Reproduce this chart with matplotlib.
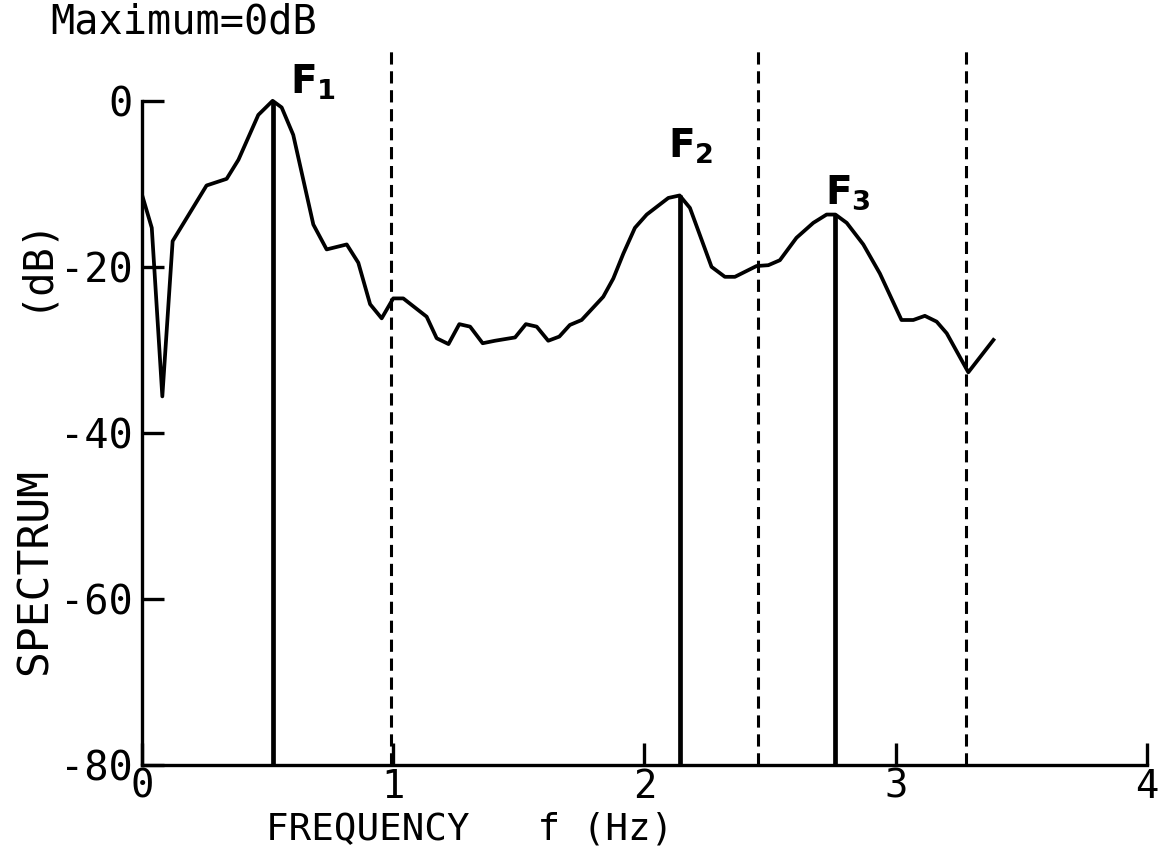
import numpy as np
import matplotlib.pyplot as plt

# spectrum trace
freq = [0.0, 0.039, 0.081, 0.122, 0.257, 0.337, 0.384, 0.463, 0.52, 0.556,
        0.602, 0.682, 0.735, 0.815, 0.861, 0.908, 0.954, 1.0, 1.04, 1.133,
        1.173, 1.22, 1.263, 1.306, 1.356, 1.405, 1.485, 1.528, 1.571, 1.617,
        1.661, 1.703, 1.75, 1.836, 1.876, 1.916, 1.962, 2.009, 2.095, 2.14,
        2.181, 2.267, 2.32, 2.36, 2.446, 2.493, 2.539, 2.605, 2.672, 2.725,
        2.76, 2.805, 2.871, 2.937, 3.023, 3.07, 3.116, 3.163, 3.203, 3.289,
        3.389]
level = [-11.3, -15.3, -35.6, -16.9, -10.2, -9.4, -7.1, -1.7, 0.0, -0.8,
         -4.1, -14.9, -17.9, -17.3, -19.5, -24.5, -26.2, -23.8, -23.8, -26.0,
         -28.6, -29.3, -26.9, -27.2, -29.2, -28.9, -28.5, -26.9, -27.2, -28.9,
         -28.4, -27.0, -26.4, -23.6, -21.4, -18.4, -15.3, -13.7, -11.7, -11.4,
         -12.9, -20.0, -21.2, -21.2, -19.9, -19.8, -19.2, -16.5, -14.7, -13.7,
         -13.7, -14.7, -17.3, -20.8, -26.4, -26.4, -25.9, -26.6, -28.0, -32.7,
         -28.8]

# formant peaks
peak_f = [0.52, 2.14, 2.76]
peak_db = [0.0, -11.4, -13.7]
peak_names = [r'$\mathbf{F_1}$', r'$\mathbf{F_2}$', r'$\mathbf{F_3}$']
label_pos = [(0.59, 0.9), (2.094, -6.9), (2.718, -12.4)]

# band boundaries (dashed)
bounds = [0.99, 2.45, 3.28]

fig = plt.figure(figsize=(11.59, 8.47), dpi=100)
ax = fig.add_axes([0.1225, 0.0968, 0.8671, 0.843])

mono = 'DejaVu Sans Mono'

ax.plot(freq, level, color='black', lw=2.7, solid_joinstyle='round')
ax.vlines(peak_f, -80, peak_db, color='black', lw=3.4)
ax.vlines(bounds, -80, 6, color='black', lw=2.2, linestyles=(0, (4, 2.2)))

for name, (x, y) in zip(peak_names, label_pos):
    ax.text(x, y, name, fontsize=28, ha='left', va='baseline')

ax.set_xlim(0, 4)
ax.set_ylim(-80, 6)
ax.spines['top'].set_visible(False)
ax.spines['right'].set_visible(False)
ax.spines['left'].set_bounds(-80, 0)
ax.spines['left'].set_linewidth(2.4)
ax.spines['bottom'].set_linewidth(2.4)

ax.set_xticks([0, 1, 2, 3, 4])
ax.set_yticks([0, -20, -40, -60, -80])
ax.set_yticklabels(['0', '-20', '-40', '-60', '-80'])
ax.tick_params(axis='both', direction='in', length=16, width=2.4,
               labelsize=29)
ax.tick_params(axis='x', pad=2, labelsize=28)
ax.tick_params(axis='y', pad=7)
for t in ax.get_xticklabels() + ax.get_yticklabels():
    t.set_family(mono)

fig.text(0.043, 0.997, 'Maximum=0dB', family=mono, fontsize=29,
         ha='left', va='top')
fig.text(0.405, 0.0, 'FREQUENCY   f (Hz)', family=mono, fontsize=27,
         ha='center', va='bottom')
fig.text(0.012, 0.325, 'SPECTRUM', family=mono, fontsize=31,
         rotation=90, ha='left', va='center')
fig.text(0.012, 0.69, '(dB)', family=mono, fontsize=29,
         rotation=90, ha='left', va='center')

fig.savefig('out.png', dpi=100, facecolor='white')
